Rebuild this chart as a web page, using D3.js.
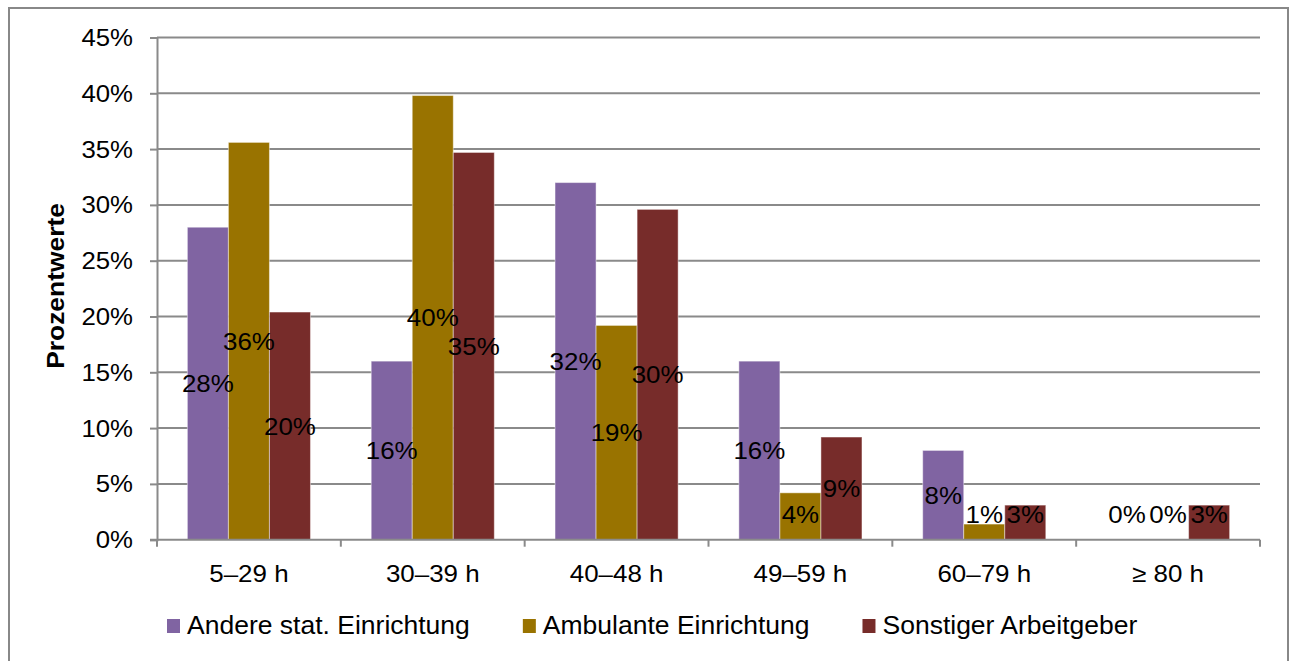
<!DOCTYPE html>
<meta charset="utf-8" />
<style>
  body { margin: 0; background: #fff; }
  text { font-family: "Liberation Sans", Arial, sans-serif; fill: #000; }
</style>
<svg width="1295" height="661"></svg>
<script src="https://d3js.org/d3.v7.min.js"></script>
<script>
  // data
  var categories = ["5–29 h", "30–39 h", "40–48 h", "49–59 h", "60–79 h", "≥ 80 h"];
  var seriesNames = ["Andere stat. Einrichtung", "Ambulante Einrichtung", "Sonstiger Arbeitgeber"];
  var andere = [28, 16, 32, 16, 8, 0];
  var ambulante = [35.6, 39.8, 19.2, 4.2, 1.4, 0];
  var sonstiger = [20.4, 34.7, 29.6, 9.2, 3.1, 3.1];
  var yTicks = [0, 5, 10, 15, 20, 25, 30, 35, 40, 45];
  var colors = ["#8064a2", "#997300", "#772c2a"];

  var svg = d3.select("svg");
  var grid = "#8a8a8a";

  // outer frame
  svg.append("rect")
    .attr("x", 9).attr("y", 8)
    .attr("width", 1279).attr("height", 700)
    .attr("fill", "none").attr("stroke", "#888").attr("stroke-width", 2);

  // note: "top" is taken by window.top, so use other names
  var plotLeft = 157, plotRight = 1260, plotTop = 37.5, plotBottom = 539.7;

  var y = d3.scaleLinear().domain([0, 45]).range([plotBottom, plotTop]);
  var x0 = d3.scaleBand().domain(categories).range([plotLeft, plotRight]);
  var x1 = d3.scaleBand().domain(seriesNames).range([0, x0.bandwidth()]).paddingOuter(0.74);

  // stretch text a bit horizontally, the picture is wider than the font
  function stretch(sel, k) {
    sel.each(function () {
      var w = this.getComputedTextLength();
      d3.select(this).attr("textLength", w * k).attr("lengthAdjust", "spacingAndGlyphs");
    });
  }

  // gridlines
  svg.append("g")
    .selectAll("line")
    .data(yTicks.filter(d => d > 0))
    .enter()
    .append("line")
    .attr("x1", plotLeft).attr("x2", plotRight)
    .attr("y1", d => y(d)).attr("y2", d => y(d))
    .attr("stroke", grid).attr("stroke-width", 2);

  // y axis
  var yAxis = svg.append("g")
    .attr("transform", "translate(" + plotLeft + ",0)")
    .call(d3.axisLeft(y).tickValues(yTicks).tickSize(7).tickPadding(17).tickFormat(d => d + "%"));
  yAxis.select(".domain").attr("stroke", grid).attr("stroke-width", 2);
  yAxis.selectAll(".tick line").attr("stroke", grid).attr("stroke-width", 2);
  yAxis.selectAll(".tick text")
    .style("font-size", "23px")
    .style("font-family", "'Liberation Sans', Arial, sans-serif")
    .attr("fill", "#000")
    .attr("dy", "0.35em")
    .call(stretch, 1.12);

  // bars
  var data = categories.map(function (c, i) {
    return { cat: c, vals: [andere[i], ambulante[i], sonstiger[i]] };
  });

  var groups = svg.append("g")
    .selectAll("g")
    .data(data)
    .enter()
    .append("g")
    .attr("transform", d => "translate(" + x0(d.cat) + ",0)");

  groups.selectAll("rect")
    .data(d => d.vals.map((v, j) => ({ name: seriesNames[j], v: v, j: j })))
    .enter()
    .append("rect")
    .attr("x", d => x1(d.name))
    .attr("width", x1.bandwidth())
    .attr("y", d => y(d.v))
    .attr("height", d => y(0) - y(d.v))
    .attr("fill", d => colors[d.j])
    .attr("stroke", "rgba(255,255,255,0.45)")
    .attr("stroke-width", d => d.v > 0 ? 1 : 0);

  // x axis
  var xAxis = svg.append("g")
    .attr("transform", "translate(0," + plotBottom + ")");
  xAxis.append("line")
    .attr("x1", plotLeft - 7).attr("x2", plotRight)
    .attr("stroke", grid).attr("stroke-width", 2);
  xAxis.selectAll(".tk")
    .data(categories.map(c => x0(c)).concat([plotRight]))
    .enter()
    .append("line")
    .attr("class", "tk")
    .attr("x1", d => d).attr("x2", d => d)
    .attr("y1", 0).attr("y2", 7)
    .attr("stroke", grid).attr("stroke-width", 2);
  xAxis.selectAll("text")
    .data(categories)
    .enter()
    .append("text")
    .attr("x", d => x0(d) + x0.bandwidth() / 2)
    .attr("y", 42.5)
    .attr("text-anchor", "middle")
    .style("font-size", "24px")
    .text(d => d)
    .call(stretch, 1.08);

  // value labels, centred in the bar but kept clear of the axis
  groups.selectAll("text")
    .data(d => d.vals.map((v, j) => ({ name: seriesNames[j], v: v })))
    .enter()
    .append("text")
    .attr("x", d => x1(d.name) + x1.bandwidth() / 2)
    .attr("y", d => Math.min((y(d.v) + y(0)) / 2, y(0) - 25))
    .attr("dy", "0.36em")
    .attr("text-anchor", "middle")
    .style("font-size", "24px")
    .text(d => Math.round(d.v) + "%")
    .call(stretch, 1.08);

  // y axis title
  svg.append("text")
    .attr("transform", "translate(64,286) rotate(-90)")
    .attr("text-anchor", "middle")
    .style("font-size", "24px")
    .style("font-weight", "bold")
    .text("Prozentwerte")
    .call(stretch, 1.1);

  // legend
  var legend = svg.append("g").attr("transform", "translate(167,619)");
  var lx = 0;
  seriesNames.forEach(function (name, j) {
    var item = legend.append("g").attr("transform", "translate(" + lx + ",0)");
    item.append("rect").attr("width", 13).attr("height", 14).attr("fill", colors[j]);
    var t = item.append("text")
      .attr("x", 20).attr("y", 15)
      .style("font-size", "25px")
      .text(name);
    var w = t.node().getComputedTextLength() * 1.06;
    t.attr("textLength", w).attr("lengthAdjust", "spacingAndGlyphs");
    lx += 20 + w + 53;
  });
</script>
